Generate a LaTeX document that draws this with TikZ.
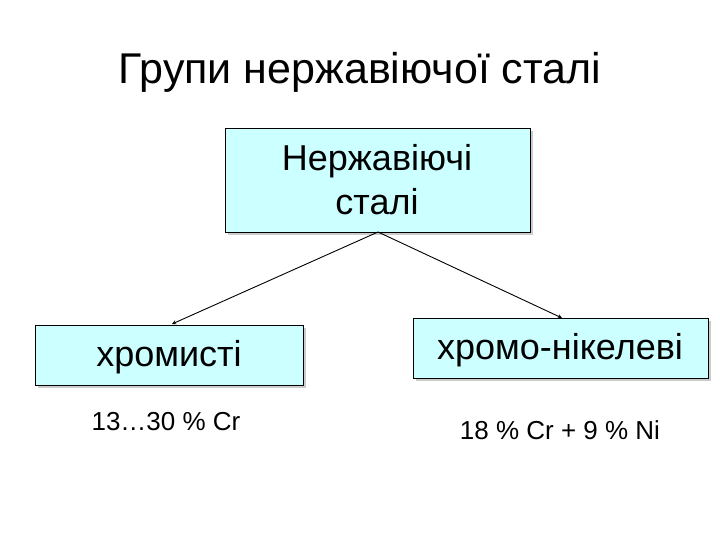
\documentclass[tikz,border=0pt]{standalone}
\usepackage{fontspec}
\setmainfont{Liberation Sans}
\definecolor{boxc}{HTML}{CCFFFF}
\begin{document}
\begin{tikzpicture}[x=1pt,y=-1pt,
  box/.style={draw=black,fill=boxc,line width=0.8pt},
  arr/.style={-stealth,line width=0.9pt}]
\useasboundingbox (0,0) rectangle (720,540);
\fill[gray!40] (228,131) rectangle (533,235);
\fill[gray!40] (38,328) rectangle (306,388);
\fill[gray!40] (416,321) rectangle (711,381);
\draw[box] (225,128) rectangle (530,232);
\draw[box] (35,325) rectangle (303,385);
\draw[box] (413,318) rectangle (708,378);
\node[font=\fontsize{43}{50}\selectfont] (title) at (360,72) {Групи нержавіючої сталі};
\node[align=center,font=\fontsize{36}{44}\selectfont] (top) at (377,180) {Нержавіючі\\сталі};
\node[font=\fontsize{36}{42}\selectfont] (l) at (169,357) {хромисті};
\node[font=\fontsize{36}{42}\selectfont] (r) at (560,350) {хромо-нікелеві};
\node[font=\fontsize{26}{30}\selectfont] (lt) at (166,422) {13…30 \% Cr};
\node[font=\fontsize{26}{30}\selectfont] (rt) at (560,430) {18 \% Cr + 9 \% Ni};
\coordinate (s) at (378,232);
\coordinate (le) at (172,324);
\coordinate (re) at (562,318);
\draw[arr] (s) -- (le);
\draw[arr] (s) -- (re);
\end{tikzpicture}
\end{document}
